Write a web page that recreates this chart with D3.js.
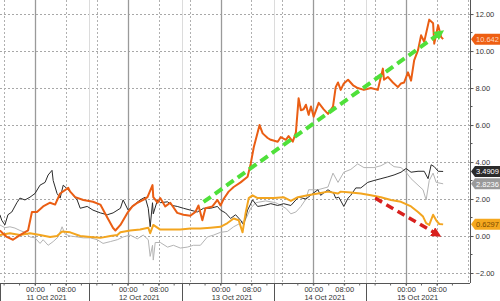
<!DOCTYPE html>
<html>
<head>
<meta charset="utf-8">
<script src="https://cdn.jsdelivr.net/npm/d3@7"></script>
<style>
  body { margin: 0; background: #fff; }
  svg { display: block; font-family: "Liberation Sans", Arial, sans-serif; }
</style>
</head>
<body>
<svg id="chart" width="500" height="301"></svg>
<script>
// hours after 11 Oct 2021 00:00, value
const orangeSeries = [[-9.1,0.3],[-7.3,-0.05],[-5.7,-0.2],[-3.9,0.05],[-1.8,0.3],[-0.8,1.3],[0.5,1.3],[2.1,1.6],[3.9,1.8],[5.2,1.7],[6.5,2.3],[8.6,2.6],[9.1,2.4],[10.4,2.1],[12.5,1.95],[15.0,1.85],[16.9,1.7],[18.7,1.0],[20.2,0.43],[20.8,0.3],[22.1,0.6],[23.9,1.25],[25.2,1.6],[26.5,1.8],[28.0,1.95],[29.1,2.1],[30.4,2.75],[30.6,2.1],[31.7,1.8],[32.4,2.05],[33.7,1.6],[35.0,1.8],[36.8,1.25],[38.4,1.15],[40.2,1.1],[41.5,1.3],[42.3,1.65],[43.3,0.85],[44.1,1.5],[45.9,1.6],[47.2,1.95],[48.0,1.65],[48.8,2.0],[50.1,2.4],[51.4,2.65],[53.2,2.9],[55.0,3.2],[55.8,3.9],[56.6,4.8],[57.6,5.6],[58.1,6.0],[58.9,5.55],[60.2,5.3],[61.0,5.2],[62.8,5.1],[63.6,5.35],[64.9,5.2],[65.6,5.4],[66.7,5.1],[67.5,5.6],[68.0,6.9],[68.2,7.45],[68.8,6.8],[69.5,6.85],[70.1,7.1],[70.8,6.55],[71.4,7.0],[72.1,6.45],[73.4,7.2],[74.7,6.85],[75.8,6.6],[77.1,7.0],[77.8,8.05],[78.4,8.3],[79.1,7.9],[79.9,8.25],[81.0,8.45],[82.3,8.15],[83.5,8.0],[85.1,7.9],[86.9,8.0],[88.7,7.9],[90.0,9.05],[90.3,8.45],[91.3,8.6],[92.6,8.3],[93.9,8.05],[94.7,8.25],[95.5,8.3],[96.5,8.85],[97.3,8.4],[98.1,9.5],[99.1,10.05],[99.9,10.85],[100.7,10.5],[102.0,11.7],[103.0,11.5],[103.3,10.4],[104.3,11.4],[105.1,10.75],[105.6,10.642]];
const blackSeries = [[-9.1,1.15],[-8.6,0.85],[-7.8,0.6],[-7.0,1.15],[-6.0,1.3],[-4.7,1.8],[-3.9,2.05],[-2.6,1.95],[-1.3,2.1],[0,2.3],[1.3,2.75],[2.6,2.9],[3.4,3.3],[4.4,3.55],[4.7,3.0],[5.7,2.3],[6.5,2.05],[7.3,2.75],[9.1,2.4],[10.9,1.95],[11.7,1.5],[13.5,1.6],[15.0,1.4],[16.9,1.25],[18.7,1.15],[20.2,1.25],[22.1,1.5],[22.8,1.95],[24.1,1.4],[25.4,1.65],[27.2,1.95],[28.5,2.1],[29.3,1.5],[29.8,0.5],[30.4,1.8],[30.6,1.2],[31.7,1.95],[32.4,1.8],[34.3,1.85],[35.5,1.65],[36.8,1.6],[38.4,1.5],[40.2,1.4],[42.0,1.3],[43.6,1.5],[45.4,1.5],[47.2,1.6],[48.0,1.4],[49.3,1.25],[50.6,0.95],[51.9,1.15],[53.2,0.85],[54.0,0.6],[55.0,1.4],[56.3,1.95],[57.6,1.6],[59.2,1.65],[61.0,1.75],[62.8,1.65],[64.3,1.75],[66.2,1.65],[67.5,1.95],[68.2,2.1],[70.1,2.0],[71.9,2.3],[73.2,2.5],[73.9,2.2],[75.8,2.5],[77.3,2.3],[77.8,2.05],[78.6,2.1],[79.9,1.6],[81.0,2.05],[81.7,2.2],[83.0,2.6],[84.3,2.6],[86.1,2.9],[87.7,3.0],[89.5,3.1],[91.3,3.2],[92.9,3.3],[94.7,3.45],[96.0,3.65],[97.3,3.45],[99.1,3.5],[100.7,3.5],[101.7,3.1],[102.5,3.85],[103.3,3.75],[104.3,3.5],[105.6,3.4909]];
const greySeries = [[-9.1,0.6],[-7.8,0.45],[-6.5,0.5],[-5.2,0.43],[-3.9,0.3],[-2.6,0.2],[-1.3,-0.05],[0,-0.1],[1.3,-0.4],[2.1,-0.2],[3.4,-0.5],[4.7,-0.3],[6.0,-0.05],[7.0,0.5],[7.8,0.1],[9.1,0.0],[10.9,-0.05],[12.5,-0.1],[14.3,-0.1],[16.1,-0.2],[17.6,-0.4],[19.5,-0.3],[21.3,-0.2],[22.8,-0.05],[24.6,0.05],[26.5,-0.15],[28.0,0.05],[29.3,-0.2],[29.8,-1.1],[30.4,-0.5],[30.6,-1.3],[31.1,-0.35],[32.4,-0.35],[34.3,-0.6],[35.8,-0.5],[37.6,-0.65],[39.4,-0.6],[41.0,-0.5],[42.8,-0.5],[44.6,-0.05],[46.2,0.05],[48.0,0.2],[49.8,0.25],[51.4,0.5],[53.2,0.7],[54.5,0.9],[55.8,1.5],[57.1,1.8],[59.7,1.9],[62.3,1.8],[64.9,1.5],[66.2,1.2],[67.5,1.3],[68.8,1.6],[70.1,2.0],[70.8,2.5],[73.2,2.5],[75.8,2.65],[77.1,3.4],[78.4,2.9],[79.9,3.45],[81.7,3.6],[83.5,3.9],[85.1,3.7],[87.7,3.7],[89.5,3.8],[91.3,4.0],[92.9,3.75],[94.7,3.7],[96.0,3.45],[97.3,3.1],[99.1,2.75],[100.4,2.5],[101.2,1.95],[102.0,3.0],[103.0,3.4],[103.8,2.9],[105.6,2.8236]];
const yellowSeries = [[-9.1,0.05],[-6.5,0.15],[-3.9,0.05],[-1.3,0.15],[1.3,0.05],[3.9,-0.05],[5.7,0.0],[7.0,0.25],[9.1,0.2],[11.7,0.0],[14.3,-0.05],[16.9,-0.1],[19.5,0.0],[21.3,0.05],[22.1,0.2],[24.6,0.3],[27.2,0.35],[29.3,0.45],[29.8,0.15],[30.6,0.6],[32.4,0.35],[35.0,0.35],[37.6,0.35],[40.2,0.4],[42.8,0.4],[45.4,0.45],[48.0,0.5],[49.8,0.7],[51.4,0.95],[52.7,0.85],[53.7,0.2],[54.5,1.25],[55.3,2.05],[56.3,2.2],[57.6,2.05],[59.2,2.05],[61.8,2.05],[64.3,2.1],[66.2,1.9],[68.0,2.1],[70.6,2.2],[73.2,2.3],[75.8,2.4],[78.4,2.3],[79.1,2.4],[81.7,2.35],[84.3,2.3],[86.9,2.2],[89.5,2.1],[92.1,1.95],[94.7,1.85],[97.3,1.6],[99.1,1.3],[100.4,1.05],[101.2,0.7],[102.0,0.6],[103.0,1.15],[103.8,0.85],[104.6,0.65],[105.6,0.6297]];

const yTicks = [-2, 0, 2, 4, 6, 8, 10, 12];
const dayStarts = ["2021-10-11", "2021-10-12", "2021-10-13", "2021-10-14", "2021-10-15"];
const sessionBreaks = [-9.1, 14.0, 38.1, 61.8, 85.6]; // hours, x-axis separators
const greenArrow = [[43.6, 1.84], [104.8, 10.97]];
const redArrow = [[88.0, 2.05], [104.0, 0.1]];

const series = [
  {data: greySeries, color: "#b4b4b4", width: 1, box: "#9a9a9a", text: "#fff"},
  {data: blackSeries, color: "#2a2a2a", width: 1, box: "#2b2b2b", text: "#fff"},
  {data: yellowSeries, color: "#f3a51f", width: 2, box: "#f5a81e", text: "#7a4a00"},
  {data: orangeSeries, color: "#ea5e14", width: 2, box: "#ee5f12", text: "#ffd9c0"}
];

const svg = d3.select("#chart");
const W = 500, H = 301;
const plotRight = 470, plotBottom = 283;
const base = Date.UTC(2021, 9, 11);
const t = h => new Date(base + h * 3600e3);

const x = d3.scaleUtc()
  .domain([t(-9.06), t(112.55)])
  .range([0, plotRight]);
const y = d3.scaleLinear()
  .domain([-2.54, 12.76])
  .range([plotBottom, 0]);

svg.append("rect").attr("width", W).attr("height", H).attr("fill", "#fff");

const grid = svg.append("g");
// horizontal dotted grid
grid.selectAll(".hg").data(yTicks).enter().append("line")
  .attr("x1", 0).attr("x2", plotRight)
  .attr("y1", d => Math.round(y(d)) + 0.5).attr("y2", d => Math.round(y(d)) + 0.5)
  .attr("stroke", "#a8a8a8").attr("stroke-dasharray", "2,2");

// vertical grid: solid at midnight, dotted at 08:00 and 16:00
const midnights = dayStarts.map(d => new Date(d + "T00:00Z"));
const dotted = [];
midnights.forEach(m => { dotted.push(d3.utcHour.offset(m, 8), d3.utcHour.offset(m, 16)); });
dotted.push(d3.utcHour.offset(midnights[0], -8));
grid.selectAll(".vd").data(dotted).enter().append("line")
  .attr("x1", d => Math.round(x(d)) + 0.5).attr("x2", d => Math.round(x(d)) + 0.5)
  .attr("y1", 0).attr("y2", plotBottom)
  .attr("stroke", "#b0b0b0").attr("stroke-dasharray", "2,2");
grid.selectAll(".vb").data(sessionBreaks.slice(1)).enter().append("line")
  .attr("x1", d => Math.round(x(t(d))) + 0.5).attr("x2", d => Math.round(x(t(d))) + 0.5)
  .attr("y1", 0).attr("y2", plotBottom)
  .attr("stroke", "#dcdcdc");
grid.selectAll(".vs").data(midnights).enter().append("line")
  .attr("x1", d => Math.round(x(d)) + 0.5).attr("x2", d => Math.round(x(d)) + 0.5)
  .attr("y1", 0).attr("y2", plotBottom)
  .attr("stroke", "#9a9a9a").attr("stroke-width", 1.3);

// lines
const line = d3.line().x(d => x(t(d[0]))).y(d => y(d[1]));
svg.append("g").selectAll("path").data(series).enter().append("path")
  .attr("d", d => line(d.data))
  .attr("fill", "none")
  .attr("stroke", d => d.color)
  .attr("stroke-width", d => d.width)
  .attr("stroke-linejoin", "round");

// arrows
const defs = svg.append("defs");
function marker(id, color) {
  defs.append("marker").attr("id", id)
    .attr("viewBox", "0 0 10 10").attr("refX", 5).attr("refY", 5)
    .attr("markerWidth", 10).attr("markerHeight", 10)
    .attr("markerUnits", "userSpaceOnUse").attr("orient", "auto")
    .append("path").attr("d", "M0,0L10,5L0,10Z").attr("fill", color);
}
marker("gHead", "#4fe03a");
marker("rHead", "#d8201e");
svg.append("path").attr("d", line(greenArrow))
  .attr("stroke", "#4fe03a").attr("stroke-width", 4).attr("stroke-dasharray", "9,5")
  .attr("fill", "none").attr("marker-end", "url(#gHead)");
svg.append("path").attr("d", line(redArrow))
  .attr("stroke", "#d8201e").attr("stroke-width", 3.5).attr("stroke-dasharray", "8,5")
  .attr("fill", "none").attr("marker-end", "url(#rHead)");

// y axis (right)
const yAxis = svg.append("g").attr("transform", `translate(${plotRight + 0.5},0)`)
  .call(d3.axisRight(y).tickValues(yTicks).tickFormat(d3.format(".2f")).tickSize(3).tickPadding(2));
yAxis.append("g").selectAll("line").data(d3.range(-1, 13, 2)).enter().append("line")
  .attr("x1", 0).attr("x2", 2).attr("y1", d => y(d)).attr("y2", d => y(d)).attr("stroke", "#555");
yAxis.select(".domain").attr("stroke", "#555").attr("d", `M0,0V${plotBottom}`);
yAxis.selectAll(".tick line").attr("stroke", "#555");
yAxis.selectAll("text").attr("font-size", 7.5).attr("fill", "#333").attr("font-family", "Liberation Sans");

// x axis
const xTicks = [];
midnights.forEach(m => xTicks.push(m, d3.utcHour.offset(m, 8)));
const xAxis = svg.append("g").attr("transform", `translate(0,${plotBottom + 0.5})`)
  .call(d3.axisBottom(x).tickValues(xTicks).tickFormat(d3.utcFormat("%H:%M")).tickSize(2).tickPadding(1));
xAxis.select(".domain").attr("stroke", "#555").attr("d", `M0,0H${plotRight}`);
xAxis.selectAll(".tick line").attr("stroke", "#555");
xAxis.selectAll("text").attr("font-size", 7.5).attr("fill", "#333");
// minor ticks every 4h
const minor = d3.utcHours(t(-8), t(112), 4);
xAxis.append("g").selectAll("line").data(minor).enter().append("line")
  .attr("x1", d => x(d)).attr("x2", d => x(d)).attr("y1", 0).attr("y2", 2).attr("stroke", "#666");
// separators
xAxis.append("g").selectAll("line").data(sessionBreaks).enter().append("line")
  .attr("x1", d => Math.round(x(t(d))) + 0.5).attr("x2", d => Math.round(x(t(d))) + 0.5)
  .attr("y1", 0).attr("y2", H - plotBottom)
  .attr("stroke", "#555");
// date labels
xAxis.append("g").selectAll("text").data(midnights).enter().append("text")
  .attr("x", d => x(d3.utcHour.offset(d, 3.5))).attr("y", 16)
  .attr("text-anchor", "middle").attr("font-size", 7.5).attr("fill", "#333")
  .text(d3.utcFormat("%d %b %Y"));

// last-value tags
const tagFmt = d3.format(".5");
const tags = svg.append("g").selectAll("g").data(series).enter().append("g")
  .attr("transform", d => `translate(${plotRight + 1},${y(d.data[d.data.length - 1][1])})`);
tags.append("path").attr("d", "M0,0L4,-5.5H29V5.5H4Z").attr("fill", d => d.box);
tags.append("text").attr("x", 5).attr("y", 2.8)
  .attr("font-size", 7.5).attr("fill", d => d.text)
  .text(d => tagFmt(d.data[d.data.length - 1][1]));
</script>
</body>
</html>
